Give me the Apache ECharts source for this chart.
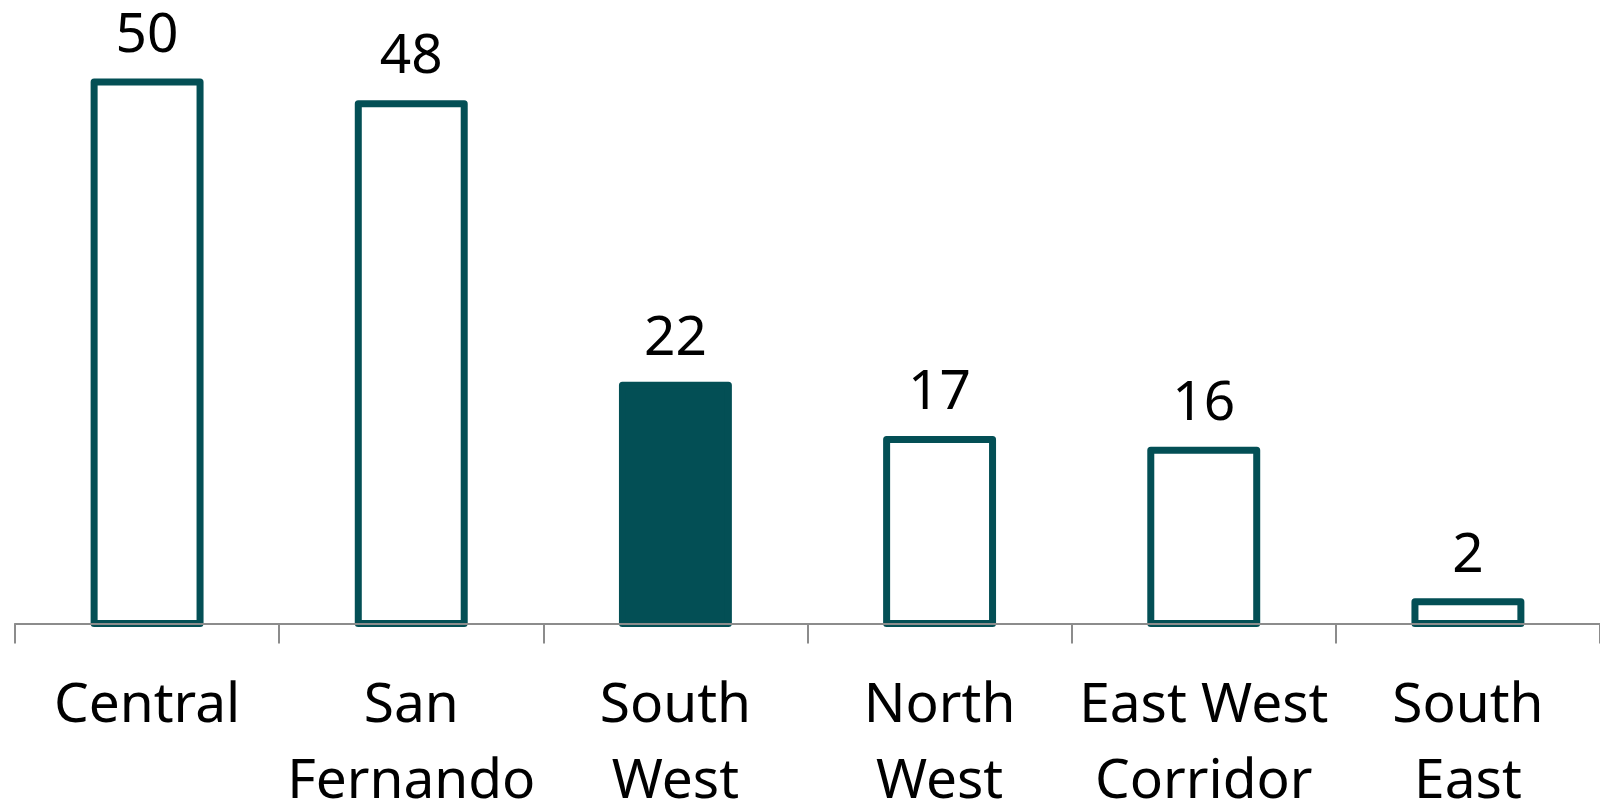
<!DOCTYPE html>
<html>
<head>
<meta charset="utf-8">
<script src="https://cdn.jsdelivr.net/npm/echarts@6/dist/echarts.min.js"></script>
<style>
html,body{margin:0;padding:0;background:#fff;}
#chart{width:1600px;height:809px;}
</style>
</head>
<body>
<div id="chart"></div>
<script>
const categories = ['Central', 'San\nFernando', 'South\nWest', 'North\nWest', 'East West\nCorridor', 'South\nEast'];
const values = [50, 48, 22, 17, 16, 2];
const highlighted = ['South\nWest'];

const teal = '#034F55';
const chart = echarts.init(document.getElementById('chart'));
chart.setOption({
  animation: false,
  backgroundColor: '#ffffff',
  grid: { left: 15, right: 0, top: 82, bottom: 185.5, containLabel: false, outerBoundsMode: 'none' },
  xAxis: {
    type: 'category',
    data: categories,
    z: 5,
    axisLine: { lineStyle: { color: '#8c8c8c', width: 2 } },
    axisTick: { show: true, length: 20, lineStyle: { color: '#8c8c8c', width: 2 } },
    axisLabel: {
      color: '#000', fontFamily: 'Noto Sans', fontSize: 55,
      lineHeight: 76, margin: 45, interval: 0
    }
  },
  yAxis: { type: 'value', min: 0, max: 50, show: false, splitLine: { show: false } },
  series: [{
    type: 'custom',
    encode: { x: 0, y: 1 },
    data: values.map((v, i) => [i, v]),
    renderItem: function (params, api) {
      const top = api.coord([api.value(0), api.value(1)]);
      const base = api.coord([api.value(0), 0]);
      const w = api.size([1, 0])[0] * 0.401;
      const filled = highlighted.includes(categories[params.dataIndex]);
      return {
        type: 'rect',
        shape: { x: top[0] - w / 2, y: top[1], width: w, height: base[1] - top[1] },
        style: {
          fill: filled ? teal : '#ffffff',
          stroke: teal, lineWidth: 7, lineJoin: 'round'
        },
        textContent: {
          style: {
            text: String(api.value(1)),
            fill: '#000', fontFamily: 'Noto Sans', fontSize: 55
          }
        },
        textConfig: { position: 'top', distance: 15 }
      };
    }
  }]
});
</script>
</body>
</html>
